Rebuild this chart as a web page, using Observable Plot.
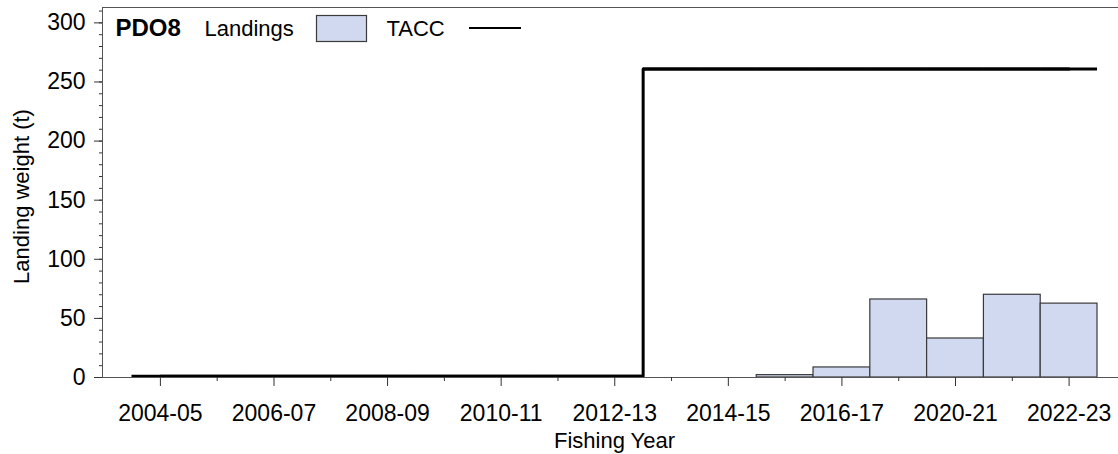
<!DOCTYPE html>
<html>
<head>
<meta charset="utf-8">
<script src="https://cdn.jsdelivr.net/npm/d3@7"></script>
<script src="https://cdn.jsdelivr.net/npm/@observablehq/plot@0.6"></script>
<style>
  html, body { margin: 0; padding: 0; background: #fff; overflow: hidden; }
  #chart { width: 1118px; height: 454px; overflow: hidden; }
</style>
</head>
<body>
<div id="chart"></div>
<script>
const years = ["2004-05","2005-06","2006-07","2007-08","2008-09","2009-10","2010-11","2011-12","2012-13","2013-14","2014-15","2015-16","2016-17","2019-20","2020-21","2021-22","2022-23"];
const landings = [0,0,0,0,0,0,0,0,0,0,0,2,8.5,66,33,70,62.5];
const tacc = [1,1,1,1,1,1,1,1,1,261,261,261,261,261,261,261,261];
const labeledYears = ["2004-05","2006-07","2008-09","2010-11","2012-13","2014-15","2016-17","2020-21","2022-23"];
const yTicks = [0,50,100,150,200,250,300];
const yMinorTicks = d3.range(0, 311, 10);
const stockName = "PDO8";

const data = years.map((year, i) => ({year, landings: landings[i], tacc: tacc[i]}));
const minorYears = years.filter(y => !labeledYears.includes(y));
const font = "'Liberation Sans', Arial, sans-serif";

const plot = Plot.plot({
  width: 1118,
  height: 454,
  marginLeft: 102,
  marginRight: 0,
  marginTop: 7,
  marginBottom: 77,
  style: {fontFamily: font, background: "#fff", color: "#000"},
  x: {type: "band", domain: years, padding: 0, round: false, insetLeft: 29.5, insetRight: 21, label: null},
  y: {domain: [0, 313], label: null},
  marks: [
    Plot.barY(data.filter(d => d.landings > 0), {x: "year", y: "landings", fill: "#d1d9f1", stroke: "#3a3a3a", strokeWidth: 1.2}),
    Plot.tickY(data, {x: "year", y: "tacc", stroke: "#000", strokeWidth: 3}),
    Plot.line(data, {x: "year", y: "tacc", curve: "step", stroke: "#000", strokeWidth: 3}),
    Plot.ruleY([0], {stroke: "#555"}),
    Plot.ruleY([313], {stroke: "#555"}),
    Plot.axisX({ticks: labeledYears, tickSize: 9, tickPadding: 18, fontSize: 23, label: null, stroke: "#333"}),
    Plot.axisX({ticks: minorYears, tickSize: 4, tickFormat: () => "", label: null, stroke: "#333"}),
    Plot.axisY({ticks: yTicks, tickSize: 8, tickPadding: 9, fontSize: 23, label: null, stroke: "#333"}),
    Plot.axisY({ticks: yMinorTicks, tickSize: 3, tickFormat: () => "", label: null, stroke: "#333"}),
    Plot.text(["Fishing Year"], {frameAnchor: "bottom", lineAnchor: "middle", dx: 4, dy: 63, fontSize: 22}),
    Plot.text(["Landing weight (t)"], {frameAnchor: "left", textAnchor: "middle", lineAnchor: "middle", rotate: -90, dx: -81, dy: 4, fontSize: 22}),
    Plot.text([stockName], {frameAnchor: "top-left", lineAnchor: "middle", dx: 13, dy: 21, textAnchor: "start", fontSize: 24, fontWeight: "bold"}),
    Plot.text(["Landings"], {frameAnchor: "top-left", lineAnchor: "middle", dx: 102, dy: 21, textAnchor: "start", fontSize: 22}),
    Plot.text(["TACC"], {frameAnchor: "top-left", lineAnchor: "middle", dx: 284, dy: 21, textAnchor: "start", fontSize: 22})
  ]
});

const svg = d3.select(plot);
// left frame line
svg.append("line").attr("x1", 102.5).attr("x2", 102.5).attr("y1", 7.5).attr("y2", 377.5)
  .attr("stroke", "#555");
// legend swatch and line
svg.append("rect").attr("x", 316.5).attr("y", 15.5).attr("width", 50).attr("height", 26)
  .attr("fill", "#d1d9f1").attr("stroke", "#3a3a3a").attr("stroke-width", 1.2);
svg.append("line").attr("x1", 469).attr("x2", 521).attr("y1", 28).attr("y2", 28)
  .attr("stroke", "#000").attr("stroke-width", 2);

document.getElementById("chart").appendChild(plot);
</script>
</body>
</html>
